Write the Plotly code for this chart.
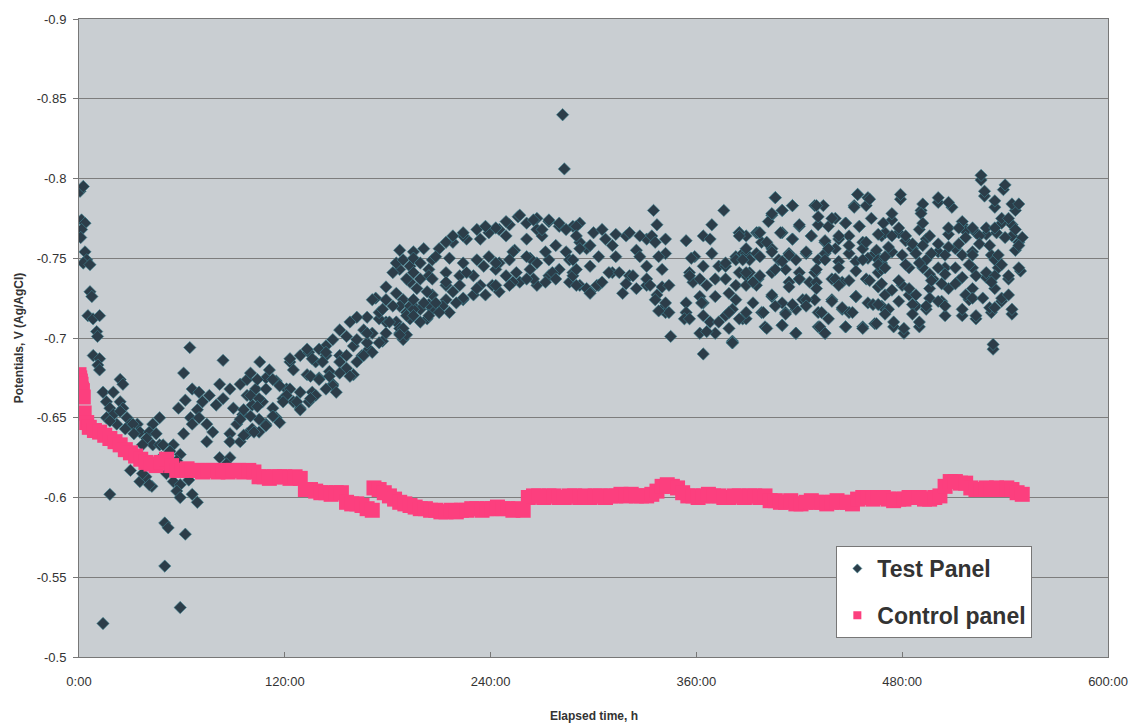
import plotly.graph_objects as go

# ---------------- axis ticks ----------------
x_tick_vals = [0, 120, 240, 360, 480, 600]
x_tick_text = ["0:00", "120:00", "240:00", "360:00", "480:00", "600:00"]
y_tick_vals = [-0.9, -0.85, -0.8, -0.75, -0.7, -0.65, -0.6, -0.55, -0.5]
y_tick_text = ["-0.9", "-0.85", "-0.8", "-0.75", "-0.7", "-0.65", "-0.6", "-0.55", "-0.5"]

# ---------------- Control panel ----------------
control_time = [0, 0.4, 0.8, 1.2, 1.5, 2, 2.5, 3, 4.5, 6, 9, 12, 15, 18, 21, 24, 27, 30, 33, 36, 39, 42, 45, 48, 51,
                54, 57, 60, 63, 66, 69, 72, 75, 78, 81, 84, 87, 90, 93, 96, 99, 102, 105, 108, 111,
                114, 117, 120, 123, 126, 129, 132, 135, 138, 141, 144, 147, 150, 153, 156, 159, 162, 165, 168, 171,
                172, 175, 178, 181, 184, 187, 190, 193, 196, 199, 202, 205, 208, 211, 214, 217, 220, 223, 226, 229,
                232, 235, 238, 241, 244, 247, 250, 253, 256, 259, 262, 265, 268, 271, 274, 277, 280, 283, 286, 289,
                292, 295, 298, 301, 304, 307, 310, 313, 316, 319, 322, 325, 328, 331, 334, 337, 340, 343, 346, 349,
                352, 355, 358, 361, 364, 367, 370, 373, 376, 379, 382, 385, 388, 391, 394, 397, 400, 403, 406, 409,
                412, 415, 418, 421, 424, 427, 430, 433, 436, 439, 442, 445, 448, 451, 454, 457, 460, 463, 466, 469,
                472, 475, 478, 481, 484, 487, 490, 493, 496, 499, 502, 505, 508, 511, 514, 517, 520, 523, 526, 529,
                532, 535, 538, 541, 544, 547, 550]
control_potential = [-0.677, -0.675, -0.673, -0.671, -0.668, -0.667, -0.663, -0.653, -0.647, -0.644,
                     -0.642, -0.641, -0.639, -0.637, -0.635,
                     -0.633, -0.630, -0.628, -0.626, -0.624, -0.622, -0.621, -0.620, -0.622, -0.624,
                     -0.620, -0.617, -0.617, -0.618, -0.617, -0.617, -0.616, -0.617, -0.617, -0.616,
                     -0.617, -0.616, -0.617, -0.617, -0.616, -0.617, -0.616, -0.613, -0.613, -0.612,
                     -0.613, -0.613, -0.613, -0.612, -0.613, -0.612, -0.605, -0.605, -0.604, -0.603,
                     -0.603, -0.602, -0.603, -0.603, -0.597, -0.596, -0.596, -0.595, -0.593, -0.592,
                     -0.606, -0.605, -0.603, -0.601, -0.599, -0.597, -0.596, -0.595, -0.594, -0.593,
                     -0.593, -0.592, -0.592, -0.591, -0.591, -0.592, -0.591, -0.592, -0.592, -0.593,
                     -0.593, -0.592, -0.593, -0.593, -0.594, -0.593, -0.593, -0.592, -0.593, -0.592,
                     -0.600, -0.601, -0.601, -0.600, -0.601, -0.601, -0.600, -0.600, -0.601, -0.601,
                     -0.600, -0.601, -0.600, -0.601, -0.601, -0.600, -0.601, -0.601, -0.602, -0.601,
                     -0.602, -0.601, -0.601, -0.601, -0.602, -0.604, -0.607, -0.608, -0.607, -0.606,
                     -0.603, -0.601, -0.601, -0.600, -0.601, -0.602, -0.601, -0.601, -0.600, -0.600,
                     -0.601, -0.601, -0.600, -0.601, -0.601, -0.600, -0.601, -0.598, -0.598, -0.597,
                     -0.597, -0.598, -0.596, -0.596, -0.597, -0.598, -0.597, -0.597, -0.596, -0.597,
                     -0.598, -0.597, -0.597, -0.596, -0.599, -0.600, -0.600, -0.599, -0.600, -0.600,
                     -0.599, -0.598, -0.599, -0.599, -0.600, -0.600, -0.600, -0.599, -0.599, -0.600,
                     -0.601, -0.607, -0.610, -0.610, -0.609, -0.609, -0.606, -0.605, -0.605, -0.606,
                     -0.605, -0.606, -0.605, -0.606, -0.605, -0.603, -0.602]

# ---------------- Test panel (read in time spans) ----------------
test_time_0_70 = [0.6, 2.5, 1.5, 3.5, 1.5, 1, 3.5, 4.5, 2.5, 6.4, 6.4, 7.5, 5.2, 8.2, 12, 10.3, 10.8, 8.3, 12, 11,
                  12, 14, 24, 25.6, 20, 16, 24, 18, 25.6, 20, 16, 28, 22, 30, 34, 35.5, 47, 43, 41, 39.5,
                  45, 43, 37, 47, 55, 53, 59, 57, 30, 35.5, 39, 42.5, 55, 59, 57, 59, 64, 66, 69, 18,
                  50, 52, 62, 50, 59, 14, 27, 31.5, 32, 49, 51, 37, 41, 24, 18, 64.6, 61, 66, 62, 58,
                  65, 61, 66, 69, 48, 52]
test_pot_0_70 = [-0.792, -0.795, -0.774, -0.772, -0.768, -0.763, -0.754, -0.749, -0.747, -0.746,
                 -0.729, -0.726, -0.714, -0.712, -0.714, -0.704, -0.701, -0.689, -0.687, -0.683,
                 -0.680, -0.666, -0.674, -0.671, -0.666, -0.660, -0.660, -0.656, -0.656, -0.652,
                 -0.650, -0.650, -0.646, -0.646, -0.646, -0.641, -0.650, -0.646, -0.641, -0.637,
                 -0.640, -0.633, -0.633, -0.633, -0.633, -0.629, -0.627, -0.623, -0.617, -0.610,
                 -0.613, -0.607, -0.610, -0.608, -0.604, -0.600, -0.611, -0.602, -0.597, -0.602,
                 -0.584, -0.581, -0.577, -0.557, -0.531, -0.521, -0.643, -0.646, -0.640, -0.633,
                 -0.615, -0.615, -0.608, -0.654, -0.648, -0.694, -0.678, -0.668, -0.661, -0.656,
                 -0.650, -0.640, -0.646, -0.655, -0.625, -0.621]

test_time_70_200 = [84, 70, 72, 76, 80, 70, 74.5, 78, 74.5, 84, 88, 82, 94, 90, 95.5, 92, 88, 98, 88, 94,
                    82, 88, 86, 101, 105, 109, 115, 113, 107, 101, 103, 98, 109, 115, 121, 119, 125, 129, 123, 129,
                    134, 138, 144, 133, 140, 146, 148, 136, 134, 156, 160, 165, 169, 177, 152, 187, 193, 179, 173, 185,
                    193, 189, 195, 191, 193, 185, 179, 175, 168, 162, 158, 166, 171, 179, 187, 189, 152, 156, 148, 144,
                    140, 133, 123, 136, 144, 160, 168, 175, 171, 166, 162, 152, 152, 146, 158, 135, 140, 148, 144, 138,
                    135, 150, 129, 123, 127, 129, 98, 104, 113, 117, 109, 100, 105, 121, 96, 104, 113, 117, 109, 102,
                    96, 119, 171, 183, 185, 187, 175, 181, 187, 191, 195, 189, 195, 199, 195, 187, 193, 191, 189, 187,
                    197, 191, 199, 195,
                    105.4, 111, 100, 125, 142, 156, 162, 168, 177, 183, 179, 94, 105, 100]
test_pot_70_200 = [-0.686, -0.666, -0.660, -0.664, -0.658, -0.650, -0.646, -0.641, -0.635, -0.662,
                   -0.668, -0.671, -0.671, -0.656, -0.652, -0.646, -0.640, -0.640, -0.635, -0.635,
                   -0.625, -0.625, -0.621, -0.643, -0.641, -0.646, -0.650, -0.656, -0.660, -0.658,
                   -0.668, -0.664, -0.675, -0.673, -0.668, -0.662, -0.660, -0.656, -0.685, -0.689,
                   -0.691, -0.685, -0.689, -0.677, -0.675, -0.679, -0.671, -0.666, -0.660, -0.681,
                   -0.677, -0.689, -0.693, -0.698, -0.689, -0.743, -0.745, -0.732, -0.725, -0.728,
                   -0.735, -0.724, -0.720, -0.716, -0.712, -0.710, -0.710, -0.712, -0.713, -0.713,
                   -0.710, -0.705, -0.703, -0.703, -0.703, -0.699, -0.705, -0.701, -0.699, -0.695,
                   -0.693, -0.693, -0.687, -0.687, -0.691, -0.695, -0.697, -0.697, -0.691, -0.689,
                   -0.685, -0.685, -0.678, -0.676, -0.676, -0.676, -0.674, -0.670, -0.668, -0.664,
                   -0.662, -0.666, -0.666, -0.668, -0.660, -0.655, -0.674, -0.674, -0.674, -0.670,
                   -0.668, -0.664, -0.662, -0.664, -0.655, -0.657, -0.651, -0.647, -0.645, -0.641,
                   -0.639, -0.660, -0.724, -0.741, -0.747, -0.755, -0.716, -0.710, -0.706, -0.702,
                   -0.754, -0.749, -0.750, -0.747, -0.741, -0.720, -0.720, -0.714, -0.706, -0.702,
                   -0.731, -0.737, -0.718, -0.718,
                   -0.685, -0.680, -0.678, -0.680, -0.685, -0.689, -0.699, -0.703, -0.718, -0.720,
                   -0.724, -0.649, -0.649, -0.651]

test_time_200_345 = [201, 210, 206, 218, 226, 234, 239, 245, 251, 256, 261, 267, 274, 280, 288, 224, 239, 245, 254, 261,
                     270, 278, 284, 274, 267, 263, 255, 249, 243, 236, 230, 222, 214, 204, 274, 280, 288, 286, 267, 257,
                     241, 234, 214, 245, 237, 230, 224, 214, 206, 212, 206, 216, 203, 257, 249, 267, 274, 280, 292, 283,
                     282, 214, 224, 243, 204, 214, 226, 243, 253, 263, 272, 296, 307, 319, 331, 204, 224, 243, 253, 265,
                     276, 288, 292, 298, 303, 311, 321, 331, 337, 340, 342, 345, 335, 337, 290, 300, 305, 313, 321, 327,
                     334, 342, 292, 298, 311, 325, 336, 342, 303, 313, 327, 338, 286, 290, 298, 309, 315, 323, 331, 340,
                     331, 296, 302, 305, 319, 325, 333, 340, 344, 290, 298, 317, 336, 342, 344, 338,
                     218, 224, 232, 237, 249, 265, 270, 284, 290, 292, 208, 216, 232, 251, 261, 288, 199, 206, 222, 251,
                     261, 272, 278, 203, 218, 195, 232, 201, 208, 220, 195, 204, 210, 199]
test_pot_200_345 = [-0.756, -0.756, -0.749, -0.760, -0.762, -0.762, -0.766, -0.768, -0.771, -0.776,
                    -0.772, -0.768, -0.773, -0.770, -0.770, -0.747, -0.751, -0.747, -0.755, -0.762,
                    -0.764, -0.758, -0.754, -0.749, -0.747, -0.743, -0.741, -0.739, -0.743, -0.745,
                    -0.739, -0.739, -0.741, -0.743, -0.739, -0.743, -0.741, -0.735, -0.733, -0.735,
                    -0.733, -0.733, -0.733, -0.729, -0.727, -0.727, -0.724, -0.724, -0.727, -0.720,
                    -0.718, -0.716, -0.712, -0.777, -0.773, -0.775, -0.774, -0.772, -0.772, -0.806,
                    -0.840, -0.760, -0.764, -0.769, -0.739, -0.735, -0.741, -0.747, -0.754, -0.750,
                    -0.754, -0.756, -0.762, -0.764, -0.762, -0.721, -0.725, -0.733, -0.735, -0.737,
                    -0.741, -0.739, -0.733, -0.729, -0.733, -0.741, -0.739, -0.733, -0.727, -0.718,
                    -0.716, -0.701, -0.780, -0.771, -0.770, -0.766, -0.768, -0.765, -0.766, -0.764,
                    -0.764, -0.762, -0.760, -0.758, -0.758, -0.755, -0.760, -0.753, -0.751, -0.751,
                    -0.751, -0.751, -0.749, -0.743, -0.745, -0.741, -0.741, -0.739, -0.745, -0.743,
                    -0.737, -0.731, -0.733, -0.735, -0.734, -0.731, -0.733, -0.732, -0.733, -0.733,
                    -0.728, -0.728, -0.724, -0.722, -0.716, -0.717,
                    -0.764, -0.766, -0.768, -0.770, -0.764, -0.774, -0.768, -0.768, -0.764, -0.756,
                    -0.751, -0.750, -0.749, -0.749, -0.751, -0.749, -0.737, -0.737, -0.733, -0.733,
                    -0.737, -0.735, -0.737, -0.729, -0.729, -0.724, -0.731, -0.722, -0.722, -0.722,
                    -0.714, -0.714, -0.716, -0.710]

test_time_345_470 = [354, 359, 364, 368, 369, 376, 369, 364, 356, 358, 366, 373, 377, 371, 377, 383, 385, 389, 387, 389,
                     383, 379, 371, 362, 354, 364, 354, 353, 364, 368, 373, 362, 371, 377, 381, 387, 379, 381, 364, 357,
                     356, 362, 377, 395, 389, 356, 363, 366, 393, 389, 381,
                     406, 416, 410, 404, 402, 429, 434, 454, 460, 452, 459, 462, 441, 447, 455, 431, 437, 420, 385, 396,
                     398, 410, 416, 427, 435, 443, 449, 457, 468, 389, 395, 404, 414, 424, 435, 441, 449, 457, 464, 383,
                     391, 408, 418, 431, 443, 453, 460, 468, 385, 391, 396, 404, 412, 429, 439, 445, 459, 466, 414, 420,
                     426, 395, 383, 404, 410, 422, 429, 439, 453, 460, 468, 379, 389, 398, 412, 418, 431, 437, 445, 449,
                     400, 410, 418, 431, 435, 447, 457, 464, 381]
test_pot_345_470 = [-0.761, -0.751, -0.764, -0.762, -0.771, -0.780, -0.753, -0.745, -0.741, -0.735,
                    -0.733, -0.745, -0.745, -0.737, -0.737, -0.751, -0.766, -0.764, -0.753, -0.739,
                    -0.733, -0.728, -0.726, -0.726, -0.722, -0.722, -0.716, -0.712, -0.714, -0.710,
                    -0.710, -0.703, -0.703, -0.714, -0.718, -0.712, -0.706, -0.698, -0.690, -0.750,
                    -0.739, -0.737, -0.747, -0.766, -0.752, -0.712, -0.722, -0.704, -0.722, -0.733,
                    -0.697,
                    -0.788, -0.783, -0.780, -0.777, -0.773, -0.783, -0.783, -0.790, -0.788, -0.783,
                    -0.783, -0.775, -0.775, -0.772, -0.770, -0.771, -0.770, -0.770, -0.766, -0.766,
                    -0.760, -0.766, -0.762, -0.764, -0.760, -0.762, -0.764, -0.760, -0.764, -0.753,
                    -0.753, -0.756, -0.753, -0.753, -0.753, -0.756, -0.753, -0.756, -0.753, -0.749,
                    -0.749, -0.749, -0.749, -0.749, -0.748, -0.748, -0.750, -0.747, -0.741, -0.741,
                    -0.737, -0.741, -0.743, -0.741, -0.737, -0.735, -0.737, -0.741, -0.735, -0.737,
                    -0.735, -0.733, -0.724, -0.726, -0.722, -0.724, -0.724, -0.724, -0.726, -0.722,
                    -0.720, -0.716, -0.712, -0.716, -0.716, -0.718, -0.716, -0.712, -0.718, -0.716,
                    -0.707, -0.708, -0.703, -0.707, -0.703, -0.707, -0.707, -0.709, -0.697]

test_time_385_555 = [526, 539, 528, 406, 454, 461, 479, 501, 509, 534, 546, 416, 410, 430, 452, 404, 491, 431, 439, 447,
                     455, 420, 474, 490, 515, 538, 544, 397, 409, 427, 385, 416, 435, 443, 459, 470, 478, 482, 494, 507,
                     517, 523, 529, 535, 544, 548, 401, 389, 404, 414, 424, 437, 449, 465, 474, 486, 501, 511, 521, 532,
                     546, 387, 397, 410, 435, 457, 466, 494, 534, 389, 397, 406, 420, 430, 443, 453, 468, 484, 492, 505,
                     521, 536, 549, 393, 420, 430, 441, 449, 461, 498, 513, 529, 542, 414, 430, 443, 466, 480, 496, 507,
                     521, 534, 404, 424, 439, 453, 470, 484, 503, 519, 538, 389, 399, 406, 412, 416, 424, 433, 445, 451,
                     463, 472, 488, 494, 505, 515, 523, 532, 544, 385, 401, 410, 418, 432, 435, 447, 457, 465, 475, 481,
                     490, 533]
test_pot_385_555 = [-0.799, -0.793, -0.789, -0.788, -0.790, -0.787, -0.787, -0.785, -0.782, -0.782,
                    -0.780, -0.783, -0.780, -0.783, -0.782, -0.778, -0.780, -0.776, -0.775, -0.772,
                    -0.770, -0.771, -0.774, -0.768, -0.771, -0.772, -0.771, -0.766, -0.766, -0.764,
                    -0.764, -0.762, -0.761, -0.764, -0.760, -0.766, -0.766, -0.761, -0.762, -0.765,
                    -0.767, -0.766, -0.765, -0.766, -0.764, -0.760, -0.760, -0.756, -0.754, -0.752,
                    -0.754, -0.756, -0.758, -0.755, -0.754, -0.756, -0.754, -0.756, -0.754, -0.752,
                    -0.755, -0.749, -0.751, -0.748, -0.749, -0.749, -0.749, -0.749, -0.749, -0.741,
                    -0.739, -0.743, -0.741, -0.743, -0.744, -0.742, -0.743, -0.744, -0.744, -0.744,
                    -0.744, -0.744, -0.742, -0.735, -0.737, -0.735, -0.737, -0.736, -0.736, -0.737,
                    -0.736, -0.738, -0.737, -0.732, -0.731, -0.733, -0.732, -0.733, -0.731, -0.731,
                    -0.731, -0.731, -0.727, -0.724, -0.723, -0.726, -0.727, -0.727, -0.723, -0.724,
                    -0.723, -0.716, -0.716, -0.720, -0.715, -0.721, -0.720, -0.716, -0.719, -0.716,
                    -0.721, -0.718, -0.720, -0.718, -0.714, -0.714, -0.712, -0.716, -0.715, -0.712,
                    -0.706, -0.708, -0.703, -0.707, -0.703, -0.707, -0.706, -0.709, -0.707, -0.703,
                    -0.707, -0.693]

test_time_465_555 = [526, 540, 528, 479, 501, 507, 534, 544, 548, 492, 491, 474, 538, 542, 492, 515, 469, 478, 507, 513,
                     521, 529, 534, 546, 466, 474, 482, 496, 517, 525, 540, 550, 486, 492, 501, 507, 513, 525, 531, 548,
                     472, 470, 480, 488, 497, 505, 515, 521, 536, 466, 482, 490, 501, 511, 519, 529, 538, 548, 470, 496,
                     505, 515, 523, 534, 542, 478, 497, 503, 511, 532, 468, 474, 484, 488, 496, 501, 517, 521, 527, 538,
                     542, 478, 466, 486, 494, 505, 515, 531, 534, 544, 470, 486, 490, 475, 481, 523, 533]
test_pot_465_555 = [-0.802, -0.796, -0.792, -0.790, -0.788, -0.785, -0.786, -0.784, -0.784, -0.784,
                    -0.778, -0.778, -0.775, -0.775, -0.772, -0.773, -0.772, -0.769, -0.769, -0.769,
                    -0.769, -0.769, -0.769, -0.768, -0.765, -0.764, -0.764, -0.764, -0.763, -0.764,
                    -0.763, -0.763, -0.759, -0.758, -0.759, -0.757, -0.759, -0.759, -0.758, -0.758,
                    -0.757, -0.751, -0.752, -0.753, -0.753, -0.752, -0.752, -0.752, -0.752, -0.746,
                    -0.746, -0.747, -0.744, -0.744, -0.746, -0.741, -0.746, -0.744, -0.744, -0.740,
                    -0.740, -0.738, -0.739, -0.739, -0.739, -0.736, -0.736, -0.734, -0.734, -0.735,
                    -0.734, -0.730, -0.731, -0.727, -0.725, -0.723, -0.727, -0.725, -0.725, -0.725,
                    -0.727, -0.723, -0.721, -0.721, -0.720, -0.720, -0.718, -0.719, -0.719, -0.718,
                    -0.715, -0.715, -0.710, -0.710, -0.706, -0.714, -0.696]

test_time = (test_time_0_70 + test_time_70_200 + test_time_200_345
             + test_time_345_470 + test_time_385_555 + test_time_465_555)
test_potential = (test_pot_0_70 + test_pot_70_200 + test_pot_200_345
                  + test_pot_345_470 + test_pot_385_555 + test_pot_465_555)

FONT = "Liberation Sans, Arial, sans-serif"
TEST_COLOR = "#2c3d49"
TEST_EDGE = "#3f8796"
CONTROL_COLOR = "#fc3f7e"

fig = go.Figure()
fig.add_trace(go.Scatter(
    x=test_time, y=test_potential, mode="markers", name="Test Panel",
    showlegend=False,
    marker=dict(symbol="diamond", size=9.5, color=TEST_COLOR,
                line=dict(color=TEST_EDGE, width=0.6)),
))
fig.add_trace(go.Scatter(
    x=control_time, y=control_potential, mode="markers", name="Control panel",
    showlegend=False,
    marker=dict(symbol="square", size=15, color=CONTROL_COLOR, line=dict(width=0)),
))
# legend entries (small symbols as in the original legend)
fig.add_trace(go.Scatter(
    x=[None], y=[None], mode="markers", name="Test Panel", legendgroup="a",
    marker=dict(symbol="diamond", size=7, color=TEST_COLOR, line=dict(color=TEST_EDGE, width=0.6)),
))
fig.add_trace(go.Scatter(
    x=[None], y=[None], mode="markers", name="Control panel", legendgroup="b",
    marker=dict(symbol="square", size=8, color=CONTROL_COLOR, line=dict(width=0)),
))

fig.add_annotation(
    text="<b>Elapsed time, h</b>", xref="paper", yref="paper",
    x=0.5, y=-0.092, xanchor="center", yanchor="middle", showarrow=False,
    font=dict(family=FONT, size=12, color="#333333"),
)

fig.update_layout(
    width=1144, height=725,
    margin=dict(l=79, r=36, t=15, b=68),
    paper_bgcolor="white",
    plot_bgcolor="#c9ced2",
    font=dict(family=FONT, color="#333333"),
    showlegend=True,
    legend=dict(
        x=0.736, y=0.174, xanchor="left", yanchor="top",
        bgcolor="white", bordercolor="#777777", borderwidth=1,
        font=dict(family=FONT, size=23, color="#333333", weight="bold"),
        itemsizing="trace", traceorder="grouped", tracegroupgap=14,
        itemwidth=30,
    ),
    xaxis=dict(
        range=[0, 600], tickvals=x_tick_vals, ticktext=x_tick_text,
        showgrid=False, zeroline=False, automargin=False,
        showline=True, linecolor="#777777", linewidth=1, mirror=True,
        ticks="inside", ticklen=5, tickcolor="#777777",
        tickfont=dict(size=13, color="#333333"), ticklabelstandoff=12,
    ),
    yaxis=dict(
        range=[-0.5, -0.9], tickvals=y_tick_vals, ticktext=y_tick_text,
        showgrid=True, gridcolor="#7d7d7d", gridwidth=1, zeroline=False,
        showline=True, linecolor="#777777", linewidth=1, mirror=True,
        ticks="outside", ticklen=5, tickcolor="#777777",
        tickfont=dict(size=13, color="#333333"), ticklabelstandoff=4,
        title=dict(text="<b>Potentials, V (Ag/AgCl)</b>", font=dict(size=12, color="#333333"), standoff=10),
    ),
)

fig.write_html("out.html")
